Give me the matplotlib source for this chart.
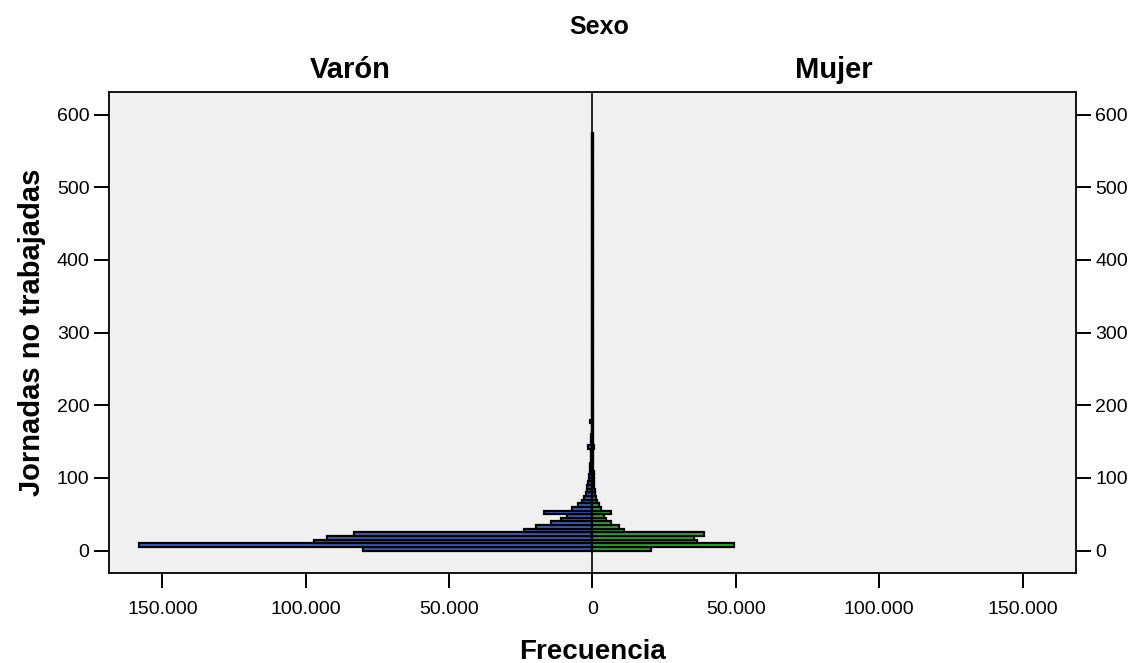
import matplotlib.pyplot as plt
import numpy as np
from matplotlib.ticker import FuncFormatter

plt.rcParams['font.family'] = ['Liberation Sans', 'DejaVu Sans']

# Datos: frecuencias por intervalo de 5 jornadas (0-5, 5-10, ..., 570-575)
bin_width = 5
varon = [80000, 158000, 97000, 92500, 83000, 24000, 19800, 14300, 11000, 8800,
         17000, 7300, 5000, 3600, 3000, 2400, 2000, 1750, 1550, 1300,
         1100, 950, 850, 760, 680, 610, 550, 490, 1500, 430,
         390, 350, 320, 290, 270, 850, 240, 220, 200, 185,
         170,
         160, 155, 150, 146, 142, 138, 134, 130, 127, 124,
         121, 118, 115, 112, 110, 108, 106, 104, 102, 100,
         98, 96, 94, 92, 90, 88, 87, 86, 85, 84,
         83, 95, 90, 80, 79, 78, 77, 76, 75, 74,
         73, 72, 71, 70, 69, 68, 67, 66, 65, 64,
         63, 62, 61, 60, 60, 59, 58, 57, 56, 55,
         55, 54, 53, 52, 52, 51, 50, 50, 49, 48,
         48, 47, 46, 45]
mujer = [20500, 49500, 36300, 35400, 39000, 11000, 9300, 6500, 4800, 3900,
         6500, 2900, 2200, 1600, 1200, 950, 800, 680, 600, 520,
         450, 400, 350, 310, 280, 250, 220, 200, 650, 170,
         155, 140, 130, 120, 110, 350, 95, 88, 80, 74,
         68,
         66, 64, 62, 60, 58, 57, 56, 55, 54, 53,
         52, 51, 50, 49, 48, 47, 46, 45, 44, 43,
         42, 41, 40, 40, 39, 38, 38, 37, 36, 36,
         35, 35, 34, 34, 33, 33, 32, 32, 31, 31,
         30, 30, 30, 29, 29, 28, 28, 28, 27, 27,
         27, 26, 26, 26, 25, 25, 25, 24, 24, 24,
         23, 23, 23, 22, 22, 22, 21, 21, 21, 20,
         20, 20, 19, 19]

inicio = np.arange(len(varon)) * bin_width
centros = inicio + bin_width / 2

xticks = [-150000, -100000, -50000, 0, 50000, 100000, 150000]
yticks = [0, 100, 200, 300, 400, 500, 600]

fig = plt.figure(figsize=(11.37, 6.63), dpi=100)
ax = fig.add_axes([0.0959, 0.1357, 0.8504, 0.7255])
ax.set_facecolor('#f0f0f0')

ax.barh(centros, -np.array(varon), height=bin_width, color='#3f5fc0',
        edgecolor='black', linewidth=1.6)
ax.barh(centros, mujer, height=bin_width, color='#2eae2e',
        edgecolor='black', linewidth=1.6)
ax.axvline(0, color='black', linewidth=1.2)

ax.set_xlim(-168600, 168600)
ax.set_ylim(-31, 631)

ax.set_xticks(xticks)
ax.xaxis.set_major_formatter(FuncFormatter(lambda v, p: f"{abs(int(v)):,}".replace(',', '.')))
ax.set_yticks(yticks)
ax.tick_params(axis='both', direction='out', length=11, width=1.4,
               labelsize=14, pad=3)
ax.tick_params(axis='y', right=True, labelright=True)
ax.tick_params(axis='x', pad=9)

for s in ax.spines.values():
    s.set_linewidth(1.3)

ax.set_ylabel('Jornadas no trabajadas', fontsize=21, fontweight='bold', labelpad=8)
ax.set_xlabel('Frecuencia', fontsize=20, fontweight='bold', labelpad=15)

fig.text(0.527, 1 - 27 / 663, 'Sexo', ha='center', va='center', fontsize=18, fontweight='bold')
fig.text(350 / 1137, 1 - 70 / 663, 'Varón', ha='center', va='center', fontsize=21, fontweight='bold')
fig.text(834 / 1137, 1 - 70 / 663, 'Mujer', ha='center', va='center', fontsize=21, fontweight='bold')

fig.savefig('out.png', dpi=100)
